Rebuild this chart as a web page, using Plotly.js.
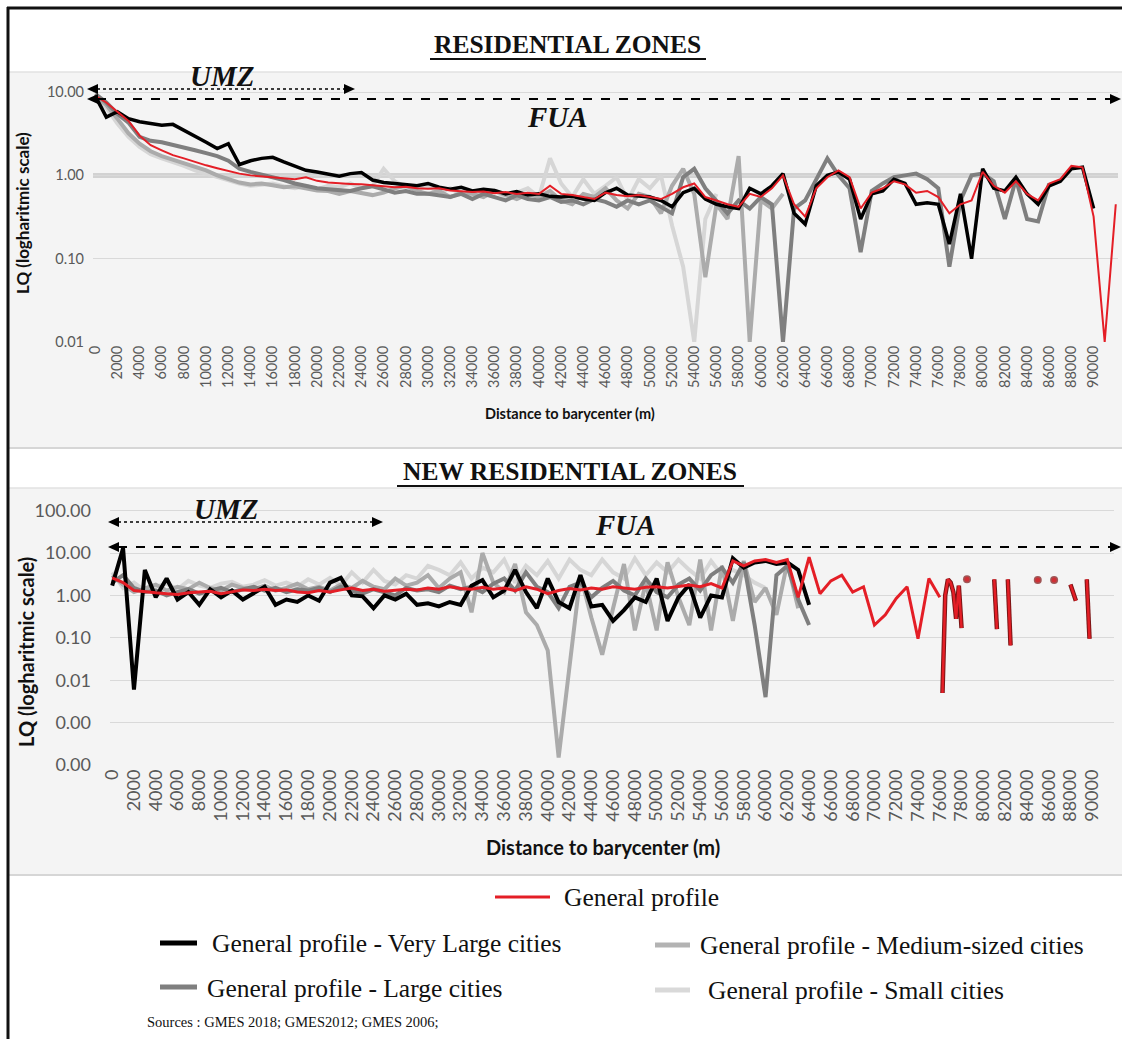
<!DOCTYPE html>
<html>
<head>
<meta charset="utf-8">
<script src="https://cdn.plot.ly/plotly-3.0.1.min.js"></script>
<style>html,body{margin:0;padding:0;background:#fff}#chart{width:1122px;height:1039px}</style>
</head>
<body>
<div id="chart"></div>
<script>
// ---------- DATA ----------
const distTicks = [0,2000,4000,6000,8000,10000,12000,14000,16000,18000,20000,22000,24000,26000,28000,30000,32000,34000,36000,38000,40000,42000,44000,46000,48000,50000,52000,54000,56000,58000,60000,62000,64000,66000,68000,70000,72000,74000,76000,78000,80000,82000,84000,86000,88000,90000];
const distTickLabels = distTicks.map(String);

const lqTicksTop = [0.01,0.1,1,10];
const lqTickLabelsTop = ['0.01','0.10','1.00','10.00'];
const lqTicksBottom = [0.0001,0.001,0.01,0.1,1,10,100];
const lqTickLabelsBottom = ['0.00','0.00','0.01','0.10','1.00','10.00','100.00'];
const thresholdLQ = 1;

// Residential zones (top), distance to barycenter (m)
const resDist = [0,1000,2000,3000,4000,5000,6000,7000,8000,9000,10000,11000,12000,13000,14000,15000,16000,17000,18000,19000,20000,21000,22000,23000,24000,25000,26000,27000,28000,29000,30000,31000,32000,33000,34000,35000,36000,37000,38000,39000,40000,41000,42000,43000,44000,45000,46000,47000,48000,49000,50000,51000,52000,53000,54000,55000,56000,57000,58000,59000,60000,61000,62000,63000,64000,65000,66000,67000,68000,69000,70000,71000,72000,73000,74000,75000,76000,77000,78000,79000,80000,81000,82000,83000,84000,85000,86000,87000,88000,89000,90000,91000,92000];

const resSmall = [8.5,6.5,4.2,2.9,2.2,1.8,1.6,1.45,1.3,1.15,
 1.05,0.95,0.88,0.8,0.75,0.78,0.8,0.74,0.7,0.75,
 0.68,0.75,0.72,0.8,0.7,0.75,1.2,0.85,0.72,0.68,
 0.75,0.62,0.7,0.6,0.55,0.62,0.65,0.55,0.62,0.7,
 0.55,1.6,0.8,0.55,0.9,0.6,0.75,0.95,0.5,0.9,
 0.7,1.0,0.25,0.08,0.01,0.3,0.6,null,null,null,
 null,null,null,null,null,null,null,null,null,null,
 null,null,null,null,null,null,null,null,null,null,
 null,null,null,null,null,null,null,null,null,null,
 null,null,null];
const resMedium = [9.0,7.0,4.8,3.2,2.4,1.95,1.7,1.55,1.4,1.28,
 1.15,1.0,0.9,0.82,0.78,0.8,0.76,0.72,0.74,0.7,
 0.66,0.65,0.6,0.65,0.62,0.58,0.62,0.7,0.75,0.65,
 0.6,0.65,0.55,0.62,0.6,0.55,0.65,0.58,0.52,0.6,
 0.55,0.65,0.5,0.45,0.6,0.55,0.7,0.5,0.4,0.6,
 0.55,0.35,0.75,1.2,0.6,0.06,0.45,0.3,1.7,0.01,
 0.5,0.4,0.6,null,null,null,null,null,null,null,
 null,null,null,null,null,null,null,null,null,null,
 null,null,null,null,null,null,null,null,null,null,
 null,null,null];
const resLarge = [9.5,7.5,5.5,4.3,2.9,2.6,2.5,2.3,2.15,2.0,
 1.85,1.7,1.5,1.2,1.1,1.03,0.95,0.88,0.8,0.74,
 0.7,0.68,0.66,0.65,0.7,0.74,0.68,0.62,0.65,0.6,
 0.6,0.58,0.55,0.6,0.52,0.6,0.55,0.5,0.58,0.52,
 0.5,0.55,0.48,0.5,0.45,0.52,0.48,0.42,0.5,0.45,
 0.5,0.42,0.35,0.95,1.2,0.7,0.5,0.35,0.5,0.4,
 0.55,0.45,0.01,0.4,0.5,0.9,1.6,1.0,0.7,0.12,
 0.65,0.8,0.95,1.0,1.05,0.9,0.7,0.08,0.5,1.0,
 1.05,0.85,0.3,0.9,0.3,0.28,0.8,null,null,null,
 null,null,null];
const resVeryLarge = [9.0,5.0,5.8,4.8,4.4,4.2,4.0,4.1,3.5,3.0,
 2.5,2.1,2.4,1.35,1.5,1.6,1.65,1.45,1.3,1.15,
 1.1,1.05,0.98,1.05,1.08,0.88,0.82,0.8,0.78,0.75,
 0.8,0.72,0.68,0.72,0.65,0.68,0.66,0.6,0.64,0.58,
 0.6,0.56,0.55,0.56,0.52,0.5,0.62,0.7,0.58,0.56,
 0.55,0.5,0.42,0.62,0.7,0.52,0.45,0.42,0.4,0.7,
 0.6,0.75,1.05,0.35,0.26,0.75,1.0,1.1,0.9,0.3,
 0.6,0.65,0.9,0.8,0.45,0.47,0.45,0.15,0.6,0.1,
 1.2,0.7,0.65,0.95,0.6,0.45,0.75,0.85,1.2,1.25,
 0.4,null,null];
const resGeneral = [9.0,7.5,5.8,4.5,3.0,2.3,2.0,1.75,1.6,1.45,
 1.32,1.22,1.12,1.05,1.0,0.97,0.95,0.92,0.9,0.95,
 0.86,0.82,0.8,0.79,0.78,0.76,0.74,0.72,0.73,0.7,
 0.69,0.7,0.66,0.65,0.63,0.64,0.61,0.63,0.6,0.62,
 0.6,0.75,0.6,0.58,0.55,0.52,0.62,0.58,0.56,0.58,
 0.55,0.52,0.6,0.72,0.8,0.55,0.5,0.45,0.42,0.6,
 0.55,0.7,1.0,0.45,0.32,0.7,0.95,1.15,0.95,0.4,
 0.62,0.7,0.85,0.78,0.62,0.65,0.55,0.35,0.45,0.5,
 1.1,0.75,0.62,0.85,0.6,0.5,0.8,0.9,1.3,1.25,
 0.32,0.01,0.45];

// New residential zones (bottom)
const newDist = [0,1000,2000,3000,4000,5000,6000,7000,8000,9000,10000,11000,12000,13000,14000,15000,16000,17000,18000,19000,20000,21000,22000,23000,24000,25000,26000,27000,28000,29000,30000,31000,32000,33000,34000,35000,36000,37000,38000,39000,40000,41000,42000,43000,44000,45000,46000,47000,48000,49000,50000,51000,52000,53000,54000,55000,56000,57000,58000,59000,60000,61000,62000,63000,64000,65000,66000,67000,68000,69000,70000,71000,72000,73000,74000,75000,76000];

const newSmall = [3.5,1.5,2.0,1.3,1.6,1.9,1.4,2.2,1.7,1.5,
 1.9,2.1,1.6,1.8,2.3,1.7,2.0,1.6,2.4,1.8,
 2.6,1.7,3.5,2.0,4.0,2.2,1.8,3.0,2.5,5.0,
 4.0,3.0,6.0,2.5,4.5,3.5,7.0,2.0,5.0,3.0,
 6.5,2.5,7.0,4.0,3.0,7.0,3.5,2.5,7.5,3.0,
 6.0,3.5,7.0,4.0,2.5,6.5,3.0,4.0,3.0,2.0,
 1.5,null,null,null,null,null,null,null,null,null,
 null,null,null,null,null,null,null];
const newMedium = [3.0,1.8,1.2,1.5,1.8,1.3,1.6,1.4,2.0,1.5,
 1.3,1.8,1.5,1.4,1.7,1.3,1.5,1.9,1.4,1.6,
 1.3,1.8,1.5,2.2,1.6,1.4,2.5,1.7,2.0,3.0,
 1.5,2.5,3.5,0.4,10.0,2.0,1.2,5.5,0.4,0.2,
 0.05,0.00015,0.02,3.0,0.3,0.04,0.5,5.5,0.15,2.0,
 0.15,6.0,0.9,0.2,7.0,0.15,5.0,0.25,6.5,0.7,
 1.5,0.35,6.0,0.5,null,null,null,null,null,null,
 null,null,null,null,null,null,null];
const newLarge = [2.0,3.0,1.5,1.2,1.3,1.0,1.2,1.4,1.1,1.3,
 1.5,1.2,1.4,1.6,1.3,1.5,1.2,1.4,1.3,1.5,
 1.2,1.6,1.3,1.1,1.4,1.2,1.0,1.5,1.3,1.4,
 1.2,1.7,1.4,1.6,1.2,1.9,2.5,1.3,3.5,1.6,
 1.2,0.5,1.6,2.0,0.9,1.5,2.2,1.3,1.0,2.5,
 1.2,0.9,1.8,2.5,1.3,3.0,4.5,2.0,6.0,0.2,
 0.004,3.0,5.0,0.8,0.2,null,null,null,null,null,
 null,null,null,null,null,null,null];
const newVeryLarge = [1.7,13.0,0.006,4.0,0.9,2.5,0.8,1.2,0.6,1.4,
 0.9,1.3,0.8,1.1,1.6,0.6,0.8,0.7,1.0,0.75,
 2.0,2.6,1.0,0.95,0.5,1.0,0.8,1.1,0.6,0.65,
 0.55,0.7,0.6,1.7,2.3,0.9,1.3,4.0,1.2,0.5,
 2.5,0.7,0.5,3.0,0.55,0.6,0.25,0.45,0.9,0.7,
 2.5,0.25,0.9,1.8,0.3,1.0,0.9,7.5,4.5,6.0,
 6.5,5.5,6.0,4.0,0.6,null,null,null,null,null,
 null,null,null,null,null,null,null];
const newGeneral = [2.6,2.0,1.3,1.2,1.15,1.1,1.05,1.15,1.2,1.25,
 1.1,1.2,1.35,1.3,1.4,1.3,1.35,1.2,1.15,1.3,
 1.2,1.35,1.5,1.3,1.4,1.25,1.3,1.4,1.35,1.5,
 1.4,1.6,1.45,1.4,1.55,1.4,1.5,1.3,1.6,1.4,
 1.1,1.3,1.45,1.35,1.5,1.4,1.6,1.5,1.4,1.55,
 1.6,1.5,1.6,1.75,1.6,1.9,1.5,6.5,5.0,6.5,
 7.0,6.0,7.0,0.9,8.0,1.1,2.2,3.0,1.2,1.6,
 0.2,0.35,0.85,1.6,0.095,2.5,0.9];
const newTailDist = [76250,76500,76750,77000,77250,77500,77750,78000,78250,78500,78750,79000,79250,79500,79750,80000,80250,80500,80750,81000,81250,81500,81750,82000,82250,82500,82750,83000,83250,83500,83750,84000,84250,84500,84750,85000,85250,85500,85750,86000,86250,86500,86750,87000,87250,87500,87750,88000,88250,88500,88750,89000,89250,89500,89750];
const newGeneralTail = [0.005,1.0,2.4,2.0,1.2,0.28,1.7,0.17,null,2.4,
 null,null,null,null,null,null,null,null,null,2.4,
 0.16,null,null,null,2.4,0.066,null,null,null,null,
 null,null,null,null,null,2.3,null,null,null,null,
 null,2.3,null,null,null,null,null,1.8,1.2,0.75,
 null,null,null,2.4,0.095];

// ---------- STYLE ----------
const W = 1122, H = 1039;
const P = x => x / W;
const Q = y => 1 - y / H;
const sans = 'Lato, "Open Sans", sans-serif';
const serif = '"Liberation Serif", "DejaVu Serif", serif';
const C = {small:'#d6d6d6', medium:'#ababab', large:'#7f7f7f', vlarge:'#000000', red:'#e41e26', redEdge:'#7a1414'};

function line(x, y, color, width, xa, ya, extra) {
  return Object.assign({x: x, y: y, type: 'scatter', mode: 'lines', connectgaps: false,
    line: {color: color, width: width}, xaxis: xa, yaxis: ya, hoverinfo: 'skip', showlegend: false}, extra || {});
}

// isolated values (no neighbour) are shown as dots, as in the reference
const isolated = newGeneralTail.map((v, i) => v !== null &&
  (i === 0 || newGeneralTail[i - 1] === null) && (i === newGeneralTail.length - 1 || newGeneralTail[i + 1] === null));

const traces = [
  line(resDist, resSmall, C.small, 4, 'x', 'y'),
  line(resDist, resMedium, C.medium, 4, 'x', 'y'),
  line(resDist, resLarge, C.large, 4, 'x', 'y'),
  line(resDist, resVeryLarge, C.vlarge, 3.5, 'x', 'y'),
  line(resDist, resGeneral, C.red, 2, 'x', 'y'),

  line(newDist, newSmall, C.small, 4, 'x2', 'y2'),
  line(newDist, newMedium, C.medium, 4, 'x2', 'y2'),
  line(newDist, newLarge, C.large, 4, 'x2', 'y2'),
  line(newDist, newVeryLarge, C.vlarge, 4, 'x2', 'y2'),
  line(newDist, newGeneral, C.red, 3, 'x2', 'y2'),
  line(newTailDist, newGeneralTail, C.redEdge, 4.5, 'x2', 'y2',
    {mode: 'lines+markers', marker: {size: isolated.map(b => b ? 8 : 0), color: C.redEdge, line: {width: 0}}}),
  line(newTailDist, newGeneralTail, C.red, 2.5, 'x2', 'y2',
    {mode: 'lines+markers', marker: {size: isolated.map(b => b ? 5 : 0), color: C.red, line: {width: 0}}})
];

function tri(tipX, y, dir) {
  const b = tipX - dir * 11;
  return {type: 'path', xref: 'paper', yref: 'paper', fillcolor: '#000', line: {width: 0},
    path: 'M' + P(tipX) + ',' + Q(y) + ' L' + P(b) + ',' + Q(y - 5) + ' L' + P(b) + ',' + Q(y + 5) + ' Z'};
}
function hline(x0, x1, y, color, width, dash) {
  return {type: 'line', xref: 'paper', yref: 'paper', x0: P(x0), x1: P(x1), y0: Q(y), y1: Q(y),
    line: {color: color, width: width, dash: dash || 'solid'}};
}

const shapes = [
  {type: 'rect', xref: 'paper', yref: 'paper', x0: P(9), x1: 1, y0: Q(448), y1: Q(72), fillcolor: '#f4f4f4', line: {width: 0}, layer: 'below'},
  {type: 'rect', xref: 'paper', yref: 'paper', x0: P(9), x1: 1, y0: Q(875), y1: Q(488), fillcolor: '#f4f4f4', line: {width: 0}, layer: 'below'},
  hline(9, 1122, 72, '#e2e2e2', 1.5),
  hline(9, 1122, 448, '#d6d6d6', 2),
  hline(9, 1122, 488, '#e2e2e2', 1.5),
  hline(9, 1122, 875, '#d6d6d6', 2),
  // reference line LQ = 1 (top)
  {type: 'line', xref: 'x domain', yref: 'y', x0: 0, x1: 1, y0: thresholdLQ, y1: thresholdLQ, line: {color: '#d2d2d2', width: 5}, layer: 'below'},
  // frame
  {type: 'line', xref: 'paper', yref: 'paper', x0: P(8), x1: P(8), y0: 0, y1: Q(7), line: {color: '#111', width: 3}},
  hline(7, 1122, 8, '#111', 3),
  // title underlines
  hline(430, 706, 59, '#111', 2),
  hline(397, 744, 486, '#111', 2),
  // arrows top
  hline(97, 345, 89, '#000', 1.6, 'dot'),
  tri(87, 89, -1), tri(355, 89, 1),
  hline(97, 1110, 99, '#000', 2, 'dash'),
  tri(87, 99, -1), tri(1121, 99, 1),
  // arrows bottom
  hline(118, 372, 522, '#000', 1.6, 'dot'),
  tri(108, 522, -1), tri(383, 522, 1),
  hline(118, 1110, 547, '#000', 2, 'dash'),
  tri(108, 547, -1), tri(1121, 547, 1),
  // legend keys
  hline(495, 550, 897, C.red, 3),
  hline(160, 197, 943, C.vlarge, 5),
  hline(160, 197, 987, C.large, 5),
  hline(655, 690, 945, '#b3b3b3', 5),
  hline(655, 690, 990, '#d9d9d9', 5)
];

function ann(text, x, y, size, family, opts) {
  return Object.assign({text: text, x: P(x), y: Q(y), xref: 'paper', yref: 'paper', showarrow: false,
    xanchor: 'center', yanchor: 'middle', font: {family: family, size: size, color: '#111'}}, opts || {});
}

const annotations = [
  ann('<b>RESIDENTIAL ZONES</b>', 567, 45, 25.5, serif),
  ann('<b>NEW RESIDENTIAL ZONES</b>', 570, 471, 25.5, serif),
  ann('<b><i>UMZ</i></b>', 222, 76, 29, serif),
  ann('<b><i>FUA</i></b>', 557, 117, 29, serif),
  ann('<b><i>UMZ</i></b>', 226, 509, 29, serif),
  ann('<b><i>FUA</i></b>', 625, 525, 29, serif),
  ann('<b>LQ (logharitmic scale)</b>', 22, 213, 17, sans, {textangle: -90}),
  ann('<b>LQ (logharitmic scale)</b>', 26, 652, 20, sans, {textangle: -90}),
  ann('<b>Distance to barycenter (m)</b>', 570, 413, 14.5, sans),
  ann('<b>Distance to barycenter (m)</b>', 603, 847, 20, sans),
  ann('General profile', 562, 897, 25.5, serif, {xanchor: 'left'}),
  ann('General profile - Very Large cities', 210, 943, 25.5, serif, {xanchor: 'left'}),
  ann('General profile - Large cities', 205, 988, 25.5, serif, {xanchor: 'left'}),
  ann('General profile - Medium-sized cities', 698, 945, 25.5, serif, {xanchor: 'left'}),
  ann('General profile - Small cities', 706, 990, 25.5, serif, {xanchor: 'left'}),
  ann('Sources : GMES 2018; GMES2012; GMES 2006;', 145, 1022, 14.5, serif, {xanchor: 'left'})
];

const tickFontTop = {family: sans, size: 14.5, color: '#595959'};
const tickFontBot = {family: sans, size: 18, color: '#595959'};

const layout = {
  width: W, height: H,
  margin: {l: 0, r: 0, t: 0, b: 0, pad: 0},
  paper_bgcolor: '#ffffff', plot_bgcolor: 'rgba(0,0,0,0)',
  showlegend: false,
  xaxis: {domain: [P(93), P(1118)], range: [-200, 92200], anchor: 'y',
    tickmode: 'array', tickvals: distTicks, ticktext: distTickLabels, tickangle: -90,
    tickfont: tickFontTop, showgrid: false, zeroline: false, showline: false, ticks: ''},
  yaxis: {domain: [Q(342), Q(73)], type: 'log', range: [-2, 1.229], anchor: 'x',
    tickmode: 'array', tickvals: lqTicksTop, ticktext: lqTickLabelsTop, tickfont: tickFontTop,
    showgrid: true, gridcolor: '#d9d9d9', gridwidth: 1, zeroline: false, showline: false, ticks: '',
    ticklabelstandoff: 8},
  xaxis2: {domain: [P(110), P(1114)], range: [-200, 92000], anchor: 'y2',
    tickmode: 'array', tickvals: distTicks, ticktext: distTickLabels, tickangle: -90,
    tickfont: tickFontBot, showgrid: false, zeroline: false, showline: false, ticks: ''},
  yaxis2: {domain: [Q(765), Q(489)], type: 'log', range: [-4, 2.51], anchor: 'x2',
    tickmode: 'array', tickvals: lqTicksBottom, ticktext: lqTickLabelsBottom, tickfont: tickFontBot,
    showgrid: true, gridcolor: '#d9d9d9', gridwidth: 1, zeroline: false, showline: false, ticks: '',
    ticklabelstandoff: 18},
  shapes: shapes,
  annotations: annotations
};

Plotly.newPlot('chart', traces, layout, {displayModeBar: false, staticPlot: true});
</script>
</body>
</html>
